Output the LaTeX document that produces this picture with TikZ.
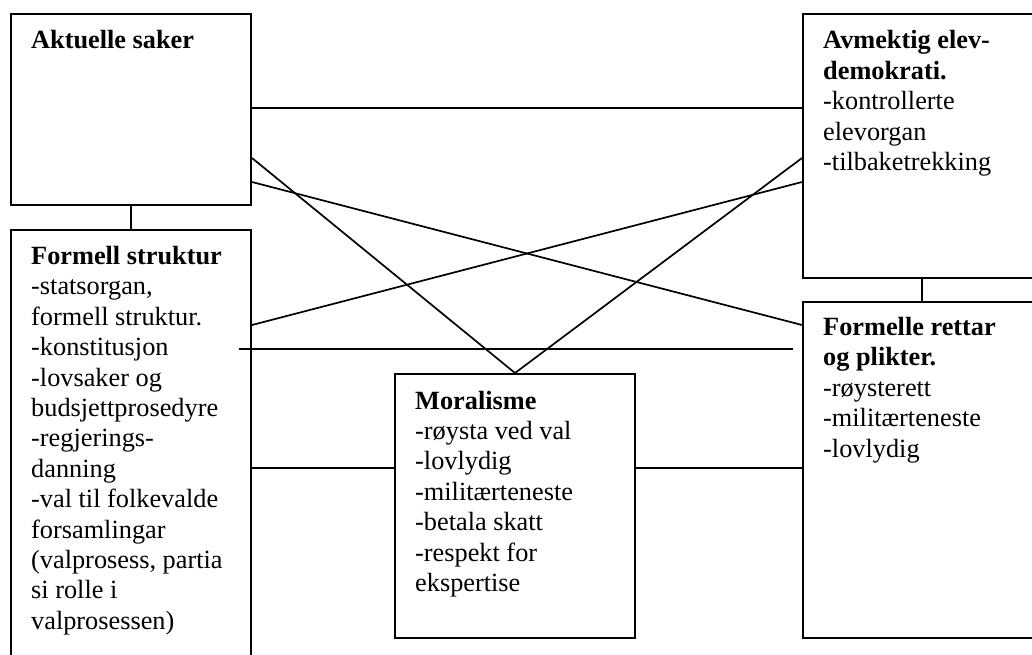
\documentclass[tikz,border=0pt]{standalone}
\usepackage{fontspec}
\setmainfont{Liberation Serif}
\begin{document}
\begin{tikzpicture}[x=1pt, y=-1pt,
  panel/.style={draw=black, line width=2pt, fill=white, rectangle, inner sep=0pt, anchor=north west},
  link/.style={draw=black, line width=1.7pt},
  label/.style={anchor=base west, inner sep=0pt}]
\newcommand{\boxlines}[1]{\parbox[t]{240pt}{\fontsize{26.3}{30.4}\selectfont\raggedright #1}}
% page area
\clip (0,0) rectangle (1032,655);
\fill[white] (0,0) rectangle (1032,655);

% boxes
\node[panel, minimum width=240.5pt, minimum height=191pt] (akt) at (9.5,13) {};
\node[panel, minimum width=240.5pt, minimum height=440pt] (for) at (9.5,229) {};
\node[panel, minimum width=240pt, minimum height=264pt] (mor) at (394,373) {};
\node[panel, minimum width=260pt, minimum height=264pt] (avm) at (802,13) {};
\node[panel, minimum width=260pt, minimum height=336pt] (frp) at (802,301) {};

% texts
\node[label] (akt-t) at ([xshift=21.5pt, yshift=-36pt]akt.north west)
  {\boxlines{\textbf{Aktuelle saker}}};
\node[label] (for-t) at ([xshift=21.5pt, yshift=-35.5pt]for.north west)
  {\boxlines{\textbf{Formell struktur}\\
  -statsorgan,\\
  formell struktur.\\
  -konstitusjon\\
  -lovsaker og\\
  budsjettprosedyre\\
  -regjerings-\\
  danning\\
  -val til folkevalde\\
  forsamlingar\\
  (valprosess, partia\\
  si rolle i\\
  valprosessen)}};
\node[label] (mor-t) at ([xshift=21pt, yshift=-36pt]mor.north west)
  {\boxlines{\textbf{Moralisme}\\
  -røysta ved val\\
  -lovlydig\\
  -militærteneste\\
  -betala skatt\\
  -respekt for\\
  ekspertise}};
\node[label] (avm-t) at ([xshift=21pt, yshift=-36pt]avm.north west)
  {\boxlines{\textbf{Avmektig elev-}\\
  \textbf{demokrati.}\\
  -kontrollerte\\
  elevorgan\\
  -tilbaketrekking}};
\node[label] (frp-t) at ([xshift=21pt, yshift=-34.5pt]frp.north west)
  {\boxlines{\textbf{Formelle rettar}\\
  \textbf{og plikter.}\\
  -røysterett\\
  -militærteneste\\
  -lovlydig}};

% vertical links between stacked boxes
\draw[link] (akt.south) -- (for.north -| akt.south);
\draw[link] ([xshift=120pt]avm.south west) -- ([xshift=120pt]frp.north west);

% links across the middle
\draw[link] ([yshift=-95pt]akt.north east) -- ([yshift=-95pt]avm.north west);
\draw[link] ([yshift=-145pt]akt.north east) -- (mor.north);
\draw[link] ([yshift=-145pt]avm.north west) -- (mor.north);
\draw[link] ([yshift=-169pt]akt.north east) -- ([yshift=-24pt]frp.north west);
\draw[link] ([yshift=-169pt]avm.north west) -- ([yshift=-96pt]for.north east);
\draw[link] ([yshift=-239pt]for.north east) -- ([yshift=-95pt]mor.north west);
\draw[link] ([yshift=-95pt]mor.north east) -- ([yshift=-167pt]frp.north west);

% free-standing horizontal line
\coordinate (hl-a) at (238.5,349);
\coordinate (hl-b) at (793,349);
\draw[link] (hl-a) -- (hl-b);
\end{tikzpicture}
\end{document}
